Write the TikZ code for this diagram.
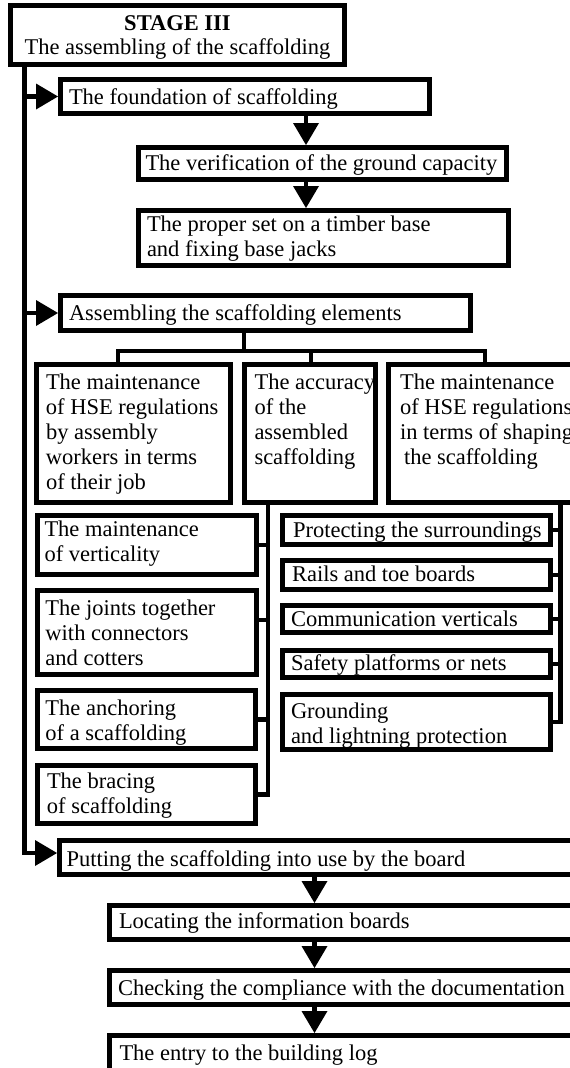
\documentclass[tikz,border=0pt]{standalone}
\usepackage{fontspec}
\setmainfont{Liberation Serif}
\usetikzlibrary{arrows.meta}

% \bx{name}{x1}{y1}{x2}{y2}{left gap}{top gap}{lines}
% (x1,y1)-(x2,y2): centre line of the frame, y counted downwards
\newcommand\bx[8]{%
  \node[bx] (#1) at (#2,#3) {\parbox[c][\dimexpr#5pt-#3pt\relax][t]{\dimexpr#4pt-#2pt\relax}{%
      \leftskip=#6pt\relax\rightskip=-40pt plus 1fil\relax
      \vspace*{#7pt}\strut#8}};}

\begin{document}
\begin{tikzpicture}[x=1pt,y=-1pt,
  bx/.style={draw, line width=5pt, rectangle, inner sep=0pt, outer sep=0pt,
    anchor=north west, font=\fontsize{22.5}{25}\selectfont},
  conn/.style={draw, line width=4.5pt, line join=miter},
  arr/.style={-{Triangle[length=22pt,width=26pt,line width=0pt]}, shorten >=2.5pt}]
\useasboundingbox (0,0) rectangle (570,1068);
\clip (0,0) rectangle (570,1068);

% title
\node[bx] (stage) at (10.5,5.8) {\parbox[c][58.2pt][t]{334pt}{\centering
    \vspace*{6.7pt}\strut\textbf{STAGE III}\\[-1pt]The assembling of the scaffolding}};

% foundation branch
\bx{found}{60.5}{79.5}{429.5}{113.5}{8.5}{7.3}{The foundation of scaffolding}
\bx{verif}{138.5}{147.5}{506.5}{179.5}{7}{5}{The verification of the ground capacity}
\bx{proper}{138.5}{210.5}{508.5}{265.5}{8.5}{3.7}{The proper set on a timber base\\and fixing base jacks}

% assembling branch
\bx{asm}{60.5}{295.5}{470.5}{330.5}{8.5}{7}{Assembling the scaffolding elements}
\bx{hseA}{36.5}{364.5}{230.5}{502.5}{9.5}{7}{The maintenance\\of HSE regulations\\by assembly\\workers in terms\\of their job}
\bx{acc}{244.5}{364.5}{375.5}{502.5}{10}{7}{The accuracy\\of the\\assembled\\scaffolding}
\bx{hseC}{388}{364.5}{640}{502.5}{12}{7}{The maintenance\\of HSE regulations\\in terms of shaping\\\hspace*{4pt}the scaffolding}

\bx{vert}{37.5}{515.5}{256.5}{574.5}{7}{3.7}{The maintenance\\of verticality}
\bx{joint}{37.5}{590.5}{256.5}{674.5}{8}{7}{The joints together\\with connectors\\and cotters}
\bx{anchr}{37.5}{690.5}{255.5}{748.5}{8}{7}{The anchoring\\of a scaffolding}
\bx{brace}{37.5}{765.5}{255.5}{823.5}{9.5}{5}{The bracing\\of scaffolding}

\bx{prot}{282.5}{515.5}{550.5}{544.5}{10.5}{4}{Protecting the surroundings}
\bx{rails}{282.5}{560.5}{550.5}{589.5}{9.5}{3.7}{Rails and toe boards}
\bx{comm}{282.5}{605.5}{550.5}{632.5}{8.5}{3}{Communication verticals}
\bx{safe}{282.5}{650.5}{550.5}{677.5}{8.5}{2}{Safety platforms or nets}
\bx{ground}{282.5}{694.5}{550.5}{749.5}{8.5}{6.3}{Grounding\\and lightning protection}

% putting into use
\bx{put}{59.5}{840.5}{640}{874.5}{7}{8.7}{Putting the scaffolding into use by the board}
\bx{loc}{109.5}{905.5}{640}{939.5}{9.5}{5}{Locating the information boards}
\bx{chk}{109.5}{970.5}{640}{1004.5}{8.5}{7}{Checking the compliance with the documentation}
\bx{entry}{109.5}{1035.5}{640}{1090}{10}{7}{The entry to the building log}

% helper points of the connectors
\coordinate (tk) at (24.5,64);
\coordinate (a1) at (306,0);
\coordinate (a2) at (314.5,0);
\coordinate (bs) at (244,351);
\coordinate (sA) at (118,351);
\coordinate (sB) at (311,351);
\coordinate (sC) at (485,351);
\coordinate (lv) at (268,0);
\coordinate (rv) at (560.5,0);

% main trunk with its branches
\draw[conn, arr] (tk) |- ([yshift=4.5pt]put.west);
\draw[conn, arr] (found.west -| tk) -- (found.west);
\draw[conn, arr] (asm.west -| tk) -- (asm.west);

% foundation steps
\draw[conn, arr] (found.south -| a1) -- (verif.north -| a1);
\draw[conn, arr] (verif.south -| a1) -- (proper.north -| a1);

% tree under the assembling box
\draw[conn] (asm.south -| bs) -- (bs);
\draw[conn] (sA |- hseA.north) -- (sA) -- (sC) -- (sC |- hseC.north);
\draw[conn] (sB) -- (sB |- acc.north);

% elements bracketed under the accuracy box
\draw[conn] (lv |- acc.south) -- (lv |- brace.east) -- (brace.east);
\draw[conn] (vert.east) -- (vert.east -| lv);
\draw[conn] ([yshift=12.5pt]joint.east) -- ([yshift=12.5pt]joint.east -| lv);
\draw[conn] (anchr.east) -- (anchr.east -| lv);

% elements bracketed under the HSE shaping box
\draw[conn] (rv |- hseC.south) -- (rv |- ground.east) -- (ground.east);
\draw[conn] (prot.east) -- (prot.east -| rv);
\draw[conn] (rails.east) -- (rails.east -| rv);
\draw[conn] (comm.east) -- (comm.east -| rv);
\draw[conn] (safe.east) -- (safe.east -| rv);

% putting into use steps
\draw[conn, arr] (put.south -| a2) -- (loc.north -| a2);
\draw[conn, arr] (loc.south -| a2) -- (chk.north -| a2);
\draw[conn, arr] (chk.south -| a2) -- (entry.north -| a2);
\end{tikzpicture}
\end{document}
